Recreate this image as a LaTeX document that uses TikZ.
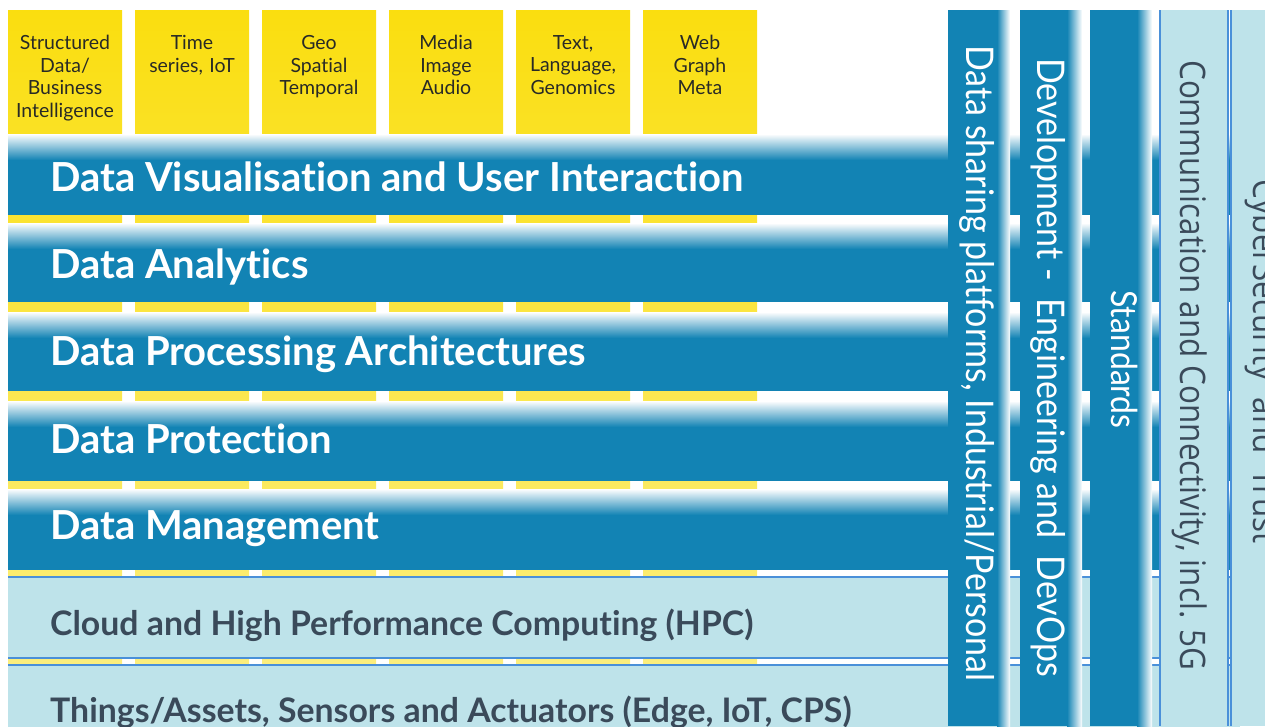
\documentclass[tikz,border=0pt]{standalone}
\usepackage{fontspec}
\setmainfont{Lato}[Ligatures=NoCommon]
\newfontfamily\segoe{Open Sans}

\definecolor{bandblue}{RGB}{18,131,180}
\definecolor{paleband}{RGB}{190,227,234}
\definecolor{rimblue}{RGB}{74,144,217}
\definecolor{boxyellow}{RGB}{250,222,15}
\definecolor{paleyellow}{RGB}{252,238,125}
\definecolor{slate}{RGB}{58,74,90}
\definecolor{boxink}{RGB}{40,42,38}

\newcommand{\barlabel}[1]{\scalebox{1}[1.12]{#1}}

\begin{document}
\begin{tikzpicture}[x=1pt,y=-1pt,
  boxtext/.style={anchor=north,align=center,text width=112pt,inner sep=0pt,
    text=boxink,font=\fontsize{19.5}{22.7}\selectfont},
  bandtext/.style={anchor=base west,inner sep=0pt,text=white,
    font=\fontsize{40}{44}\selectfont\bfseries},
  lowtext/.style={anchor=base west,inner sep=0pt,text=slate,
    font=\fontsize{33.8}{36}\selectfont\bfseries},
  bartext/.style={anchor=base west,rotate=-90,inner sep=0pt,text=white,
    font=\fontsize{34}{36}\selectfont},
  sidetext/.style={rotate=-90,inner sep=0pt,text=slate,
    font=\segoe\fontsize{31.4}{33}\selectfont}]

\useasboundingbox (0,0) rectangle (1265,726);
\clip (0,0) rectangle (1265,726);

\shade [top color=boxyellow, bottom color=paleyellow] (8,10) rectangle (122,664);
\shade [top color=boxyellow, bottom color=paleyellow] (135,10) rectangle (249,664);
\shade [top color=boxyellow, bottom color=paleyellow] (262,10) rectangle (376,664);
\shade [top color=boxyellow, bottom color=paleyellow] (389,10) rectangle (503,664);
\shade [top color=boxyellow, bottom color=paleyellow] (516,10) rectangle (630,664);
\shade [top color=boxyellow, bottom color=paleyellow] (643,10) rectangle (757,664);

\fill [bandblue] (8,134) rectangle (1240,215);
\shade [top color=white, bottom color=bandblue] (8,134) rectangle (1240,160);
\fill [bandblue] (8,223) rectangle (1240,302);
\shade [top color=white, bottom color=bandblue] (8,223) rectangle (1240,249);
\fill [bandblue] (8,312) rectangle (1240,391);
\shade [top color=white, bottom color=bandblue] (8,312) rectangle (1240,338);
\fill [bandblue] (8,401) rectangle (1240,481);
\shade [top color=white, bottom color=bandblue] (8,401) rectangle (1240,427);
\fill [bandblue] (8,489) rectangle (1240,570);
\shade [top color=white, bottom color=bandblue] (8,489) rectangle (1240,515);

\fill [paleband] (8,577) rectangle (1240,658);
\draw [rimblue, line width=1.5pt] (8,577) -- (1240,577);
\draw [rimblue, line width=1.5pt] (8,658) -- (1240,658);
\fill [paleband] (8,665) rectangle (1240,740);
\draw [rimblue, line width=1.5pt] (8,665) -- (1240,665);

\fill [bandblue] (948,10) rectangle (998,726);
\shade [left color=bandblue, right color=white] (997,10) rectangle (1010,726);
\fill [bandblue] (1020,10) rectangle (1068,726);
\shade [left color=bandblue, right color=white] (1067,10) rectangle (1082,726);
\fill [bandblue] (1090,10) rectangle (1138,726);
\shade [left color=bandblue, right color=white] (1137,10) rectangle (1152,726);

\fill [paleband] (1160,10) rectangle (1228,726);
\draw [rimblue, line width=1.5pt] (1160,10) -- (1160,726);
\draw [rimblue, line width=1.5pt] (1228,10) -- (1228,726);
\fill [paleband] (1231,10) rectangle (1300,726);
\draw [rimblue, line width=1.5pt] (1231,10) -- (1231,726);

\node (structured) [boxtext] at (65,35) {Structured\\Data/\\Business\\Intelligence};
\node (timeseries) [boxtext] at (192,35) {Time\\series, IoT};
\node (geo) [boxtext] at (319,35) {Geo\\Spatial\\Temporal};
\node (media) [boxtext] at (446,35) {Media\\Image\\Audio};
\node (textlang) [boxtext] at (573,35) {Text,\\Language,\\Genomics};
\node (web) [boxtext] at (700,35) {Web\\Graph\\Meta};

\node (visual) [bandtext] at (50,191) {Data Visualisation and User Interaction};
\node (analytics) [bandtext] at (50,278) {Data Analytics};
\node (processing) [bandtext] at (50,365) {Data Processing Architectures};
\node (protection) [bandtext] at (50,453) {Data Protection};
\node (management) [bandtext] at (50,539) {Data Management};

\node (cloud) [lowtext] at (50,635) {Cloud and High Performance Computing (HPC)};
\node (things) [lowtext] at (50,722) {Things/Assets, Sensors and Actuators (Edge, IoT, CPS)};

\node (sharing) [bartext] at (966,45) {\barlabel{Data sharing platforms, Industrial/Personal}};
\node (devops) [bartext] at (1037,58) {\barlabel{Development - \ Engineering and \ DevOps}};
\node (standards) [bartext, font=\fontsize{32}{34}\selectfont] at (1111,290) {\barlabel{Standards}};

\node (comms) [sidetext, anchor=base west] at (1180,60) {\barlabel{Communication and Connectivity, incl. 5G}};
\node (cyber) [sidetext, anchor=base east] at (1253,544) {\barlabel{CyberSecurity \ and \ Trust}};
\end{tikzpicture}
\end{document}
